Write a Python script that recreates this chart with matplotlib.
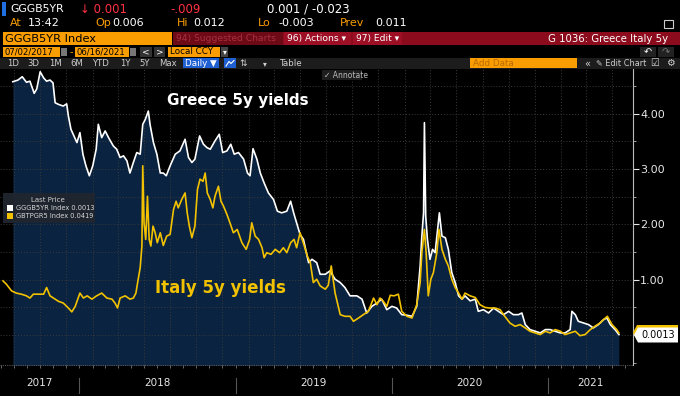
import matplotlib
matplotlib.use("Agg")
import matplotlib.pyplot as plt
import matplotlib.dates as mdates
import pandas as pd
from matplotlib.patches import Rectangle, Polygon
from matplotlib.lines import Line2D

# ---- data (yield, %) ----
greece_dates = [
    "2017-07-29", "2017-08-10", "2017-08-20", "2017-08-30", "2017-09-07", "2017-09-17", "2017-09-23",
    "2017-10-01", "2017-10-09", "2017-10-16", "2017-10-24", "2017-10-31", "2017-11-05", "2017-11-13",
    "2017-11-24", "2017-12-02", "2017-12-06", "2017-12-12", "2017-12-19", "2017-12-26", "2018-01-02",
    "2018-01-09", "2018-01-16", "2018-01-24", "2018-02-01", "2018-02-09", "2018-02-14", "2018-02-22",
    "2018-03-02", "2018-03-10", "2018-03-21", "2018-03-29", "2018-04-06", "2018-04-14", "2018-04-22",
    "2018-04-29", "2018-05-07", "2018-05-15", "2018-05-23", "2018-05-29", "2018-06-04", "2018-06-11",
    "2018-06-15", "2018-06-23", "2018-07-01", "2018-07-09", "2018-07-16", "2018-07-23", "2018-08-01",
    "2018-08-13", "2018-08-24", "2018-09-05", "2018-09-13", "2018-09-21", "2018-09-28", "2018-10-09",
    "2018-10-18", "2018-10-26", "2018-11-03", "2018-11-14", "2018-11-24", "2018-12-02", "2018-12-12",
    "2018-12-21", "2018-12-29", "2019-01-08", "2019-01-20", "2019-01-29", "2019-02-04", "2019-02-11",
    "2019-02-20", "2019-02-28", "2019-03-09", "2019-03-19", "2019-03-31", "2019-04-09", "2019-04-19",
    "2019-05-01", "2019-05-10", "2019-05-17", "2019-05-24", "2019-06-01", "2019-06-09", "2019-06-21",
    "2019-06-29", "2019-07-10", "2019-07-18", "2019-07-30", "2019-08-10", "2019-08-22", "2019-09-03",
    "2019-09-14", "2019-09-26", "2019-10-12", "2019-10-24", "2019-11-04", "2019-11-16", "2019-11-28",
    "2019-12-09", "2019-12-21", "2020-01-02", "2020-01-13", "2020-01-25", "2020-02-06", "2020-02-18",
    "2020-02-29", "2020-03-08", "2020-03-12", "2020-03-16", "2020-03-18", "2020-03-21", "2020-03-25",
    "2020-03-31", "2020-04-06", "2020-04-12", "2020-04-17", "2020-04-22", "2020-04-28", "2020-05-06",
    "2020-05-13", "2020-05-21", "2020-05-29", "2020-06-06", "2020-06-14", "2020-06-21", "2020-07-03",
    "2020-07-15", "2020-07-22", "2020-08-03", "2020-08-15", "2020-08-27", "2020-09-07", "2020-09-19",
    "2020-10-01", "2020-10-12", "2020-10-24", "2020-11-01", "2020-11-09", "2020-11-20", "2020-12-02",
    "2020-12-14", "2020-12-26", "2021-01-06", "2021-01-18", "2021-01-30", "2021-02-10", "2021-02-22",
    "2021-02-26", "2021-03-06", "2021-03-13", "2021-03-25", "2021-04-06", "2021-04-17", "2021-04-29",
    "2021-05-11", "2021-05-19", "2021-05-27", "2021-06-07", "2021-06-16",
]
greece_vals = [
    4.58, 4.61, 4.67, 4.57, 4.59, 4.37, 4.45,
    4.76, 4.65, 4.59, 4.61, 4.56, 4.20, 4.17,
    4.14, 4.18, 3.96, 3.72, 3.60, 3.48, 3.66,
    3.27, 3.06, 2.88, 3.06, 3.36, 3.81, 3.57,
    3.69, 3.57, 3.42, 3.36, 3.21, 3.24, 3.15,
    2.93, 3.12, 3.30, 3.27, 3.81, 3.90, 4.05,
    3.81, 3.48, 3.27, 2.93, 2.93, 2.88, 3.06,
    3.27, 3.33, 3.54, 3.21, 3.12, 3.18, 3.60,
    3.45, 3.39, 3.36, 3.51, 3.63, 3.30, 3.33,
    3.45, 3.27, 3.30, 3.18, 2.93, 2.88, 3.37,
    3.18, 2.93, 2.75, 2.57, 2.45, 2.24, 2.21,
    2.24, 2.42, 2.21, 2.03, 1.82, 1.73, 1.31,
    1.37, 1.31, 1.10, 1.10, 1.16, 1.01, 0.95,
    0.86, 0.71, 0.71, 0.65, 0.40, 0.52, 0.58,
    0.65, 0.46, 0.52, 0.49, 0.37, 0.36, 0.34,
    0.52, 1.25, 1.79, 2.21, 3.84, 2.15, 1.73,
    1.37, 1.55, 1.49, 1.85, 2.21, 1.79, 1.76,
    1.55, 1.13, 0.95, 0.71, 0.65, 0.71, 0.62,
    0.65, 0.43, 0.46, 0.40, 0.49, 0.43, 0.37,
    0.43, 0.37, 0.37, 0.40, 0.19, 0.10, 0.07,
    0.04, 0.10, 0.10, 0.07, 0.04, 0.04, 0.10,
    0.43, 0.37, 0.25, 0.22, 0.19, 0.13, 0.19,
    0.28, 0.31, 0.19, 0.10, 0.01,
]

italy_dates = [
    "2017-07-06", "2017-07-14", "2017-07-26", "2017-08-06", "2017-08-18", "2017-08-30", "2017-09-07",
    "2017-09-15", "2017-09-27", "2017-10-09", "2017-10-16", "2017-10-24", "2017-11-01", "2017-11-13",
    "2017-11-24", "2017-12-06", "2017-12-14", "2017-12-22", "2017-12-29", "2018-01-02", "2018-01-10",
    "2018-01-19", "2018-01-30", "2018-02-10", "2018-02-22", "2018-03-06", "2018-03-18", "2018-03-25",
    "2018-03-31", "2018-04-06", "2018-04-18", "2018-04-29", "2018-05-07", "2018-05-13", "2018-05-17",
    "2018-05-23", "2018-05-27", "2018-05-29", "2018-06-01", "2018-06-05", "2018-06-09", "2018-06-13",
    "2018-06-17", "2018-06-22", "2018-06-27", "2018-07-02", "2018-07-09", "2018-07-16", "2018-07-24",
    "2018-08-01", "2018-08-09", "2018-08-15", "2018-08-20", "2018-08-28", "2018-09-05", "2018-09-10",
    "2018-09-15", "2018-09-21", "2018-09-28", "2018-10-04", "2018-10-10", "2018-10-17", "2018-10-22",
    "2018-10-27", "2018-11-03", "2018-11-09", "2018-11-14", "2018-11-22", "2018-11-28", "2018-12-04",
    "2018-12-12", "2018-12-19", "2018-12-27", "2019-01-05", "2019-01-16", "2019-01-26", "2019-02-03",
    "2019-02-08", "2019-02-16", "2019-02-24", "2019-03-04", "2019-03-09", "2019-03-15", "2019-03-25",
    "2019-04-04", "2019-04-14", "2019-04-23", "2019-05-01", "2019-05-10", "2019-05-18", "2019-05-24",
    "2019-06-01", "2019-06-11", "2019-06-18", "2019-06-25", "2019-07-02", "2019-07-10", "2019-07-18",
    "2019-07-30", "2019-08-06", "2019-08-13", "2019-08-22", "2019-09-03", "2019-09-14", "2019-09-26",
    "2019-10-04", "2019-10-16", "2019-10-27", "2019-11-08", "2019-11-20", "2019-11-28", "2019-12-05",
    "2019-12-13", "2019-12-21", "2019-12-29", "2020-01-07", "2020-01-17", "2020-01-25", "2020-02-06",
    "2020-02-18", "2020-02-29", "2020-03-08", "2020-03-12", "2020-03-18", "2020-03-22", "2020-03-27",
    "2020-04-02", "2020-04-08", "2020-04-16", "2020-04-21", "2020-04-28", "2020-05-06", "2020-05-13",
    "2020-05-21", "2020-05-29", "2020-06-06", "2020-06-14", "2020-06-21", "2020-07-03", "2020-07-15",
    "2020-07-26", "2020-08-07", "2020-08-18", "2020-08-30", "2020-09-11", "2020-09-22", "2020-10-04",
    "2020-10-16", "2020-10-28", "2020-11-09", "2020-11-20", "2020-12-02", "2020-12-14", "2020-12-26",
    "2021-01-06", "2021-01-18", "2021-01-30", "2021-02-10", "2021-02-22", "2021-03-06", "2021-03-17",
    "2021-03-29", "2021-04-10", "2021-04-21", "2021-05-03", "2021-05-11", "2021-05-20", "2021-05-31",
    "2021-06-11", "2021-06-16",
]
italy_vals = [
    0.98, 0.92, 0.80, 0.76, 0.74, 0.71, 0.67,
    0.74, 0.74, 0.74, 0.86, 0.71, 0.67, 0.61,
    0.58, 0.49, 0.42, 0.52, 0.67, 0.76, 0.67,
    0.71, 0.65, 0.71, 0.76, 0.67, 0.65, 0.58,
    0.49, 0.67, 0.71, 0.65, 0.67, 0.76, 0.95,
    1.22, 1.61, 3.06, 2.03, 1.73, 2.51, 1.73,
    1.61, 1.97, 1.85, 1.67, 1.85, 1.62, 1.79,
    1.82, 2.27, 2.42, 2.30, 2.45, 2.57, 2.21,
    1.97, 1.76, 1.97, 2.63, 2.82, 2.78, 2.93,
    2.57, 2.45, 2.30, 2.51, 2.69, 2.42, 2.33,
    2.18, 2.03, 1.85, 1.91, 1.67, 1.55, 1.73,
    2.03, 1.79, 1.73, 1.58, 1.40, 1.49, 1.46,
    1.55, 1.49, 1.58, 1.49, 1.67, 1.73, 1.58,
    1.85, 1.61, 1.43, 1.31, 0.95, 1.01, 0.89,
    0.83, 0.90, 1.25, 0.76, 0.37, 0.34, 0.34,
    0.25, 0.31, 0.37, 0.43, 0.67, 0.55, 0.67,
    0.61, 0.52, 0.72, 0.71, 0.74, 0.43, 0.34,
    0.31, 0.55, 0.95, 1.49, 1.91, 1.49, 0.71,
    1.01, 1.13, 1.49, 1.91, 1.55, 1.37, 1.25,
    1.01, 0.86, 0.76, 0.65, 0.76, 0.71, 0.68,
    0.55, 0.50, 0.49, 0.49, 0.46, 0.34, 0.22,
    0.16, 0.19, 0.13, 0.07, 0.04, 0.01, 0.07,
    0.04, 0.10, 0.07, 0.01, 0.04, 0.07, -0.01,
    0.01, 0.10, 0.16, 0.22, 0.28, 0.34, 0.19,
    0.10, 0.04,
]

years = [2017, 2018, 2019, 2020, 2021]
ytick_vals = [1.0, 2.0, 3.0, 4.0]
last_greece = "0.0013"
last_italy = "0.0419"

g_d = pd.to_datetime(greece_dates)
i_d = pd.to_datetime(italy_dates)

# ---- colours ----
NAVY = "#0a2341"
YELLOW = "#f2c200"
ORANGE = "#f99d00"
RED_BAR = "#8c0b1c"
GRID = "#3a3a3a"

W, H = 680, 396
fig = plt.figure(figsize=(W / 100, H / 100), dpi=100, facecolor="black")


def fx(x):
    return x / W


def fy(y):
    return 1 - y / H


def box(x0, y0, x1, y1, color, **kw):
    fig.patches.append(Rectangle((fx(x0), fy(y1)), (x1 - x0) / W, (y1 - y0) / H,
                                 transform=fig.transFigure, facecolor=color, lw=0, **kw))


def txt(x, y, s, color="white", size=7.5, ha="left", **kw):
    fig.text(fx(x), fy(y), s, color=color, fontsize=size, ha=ha, va="center", **kw)


# ---- header rows ----
box(1.5, 2, 6, 16, "#1f6fe0")
txt(10, 9.5, "GGGB5YR", size=7.8)
txt(80, 9.5, "\u2193 0.001", color="#ff3040", size=8.5)
txt(170, 9.5, "-.009", color="#ff3040", size=8.5)
txt(267, 9.5, "0.001 / -0.023", size=8.5)

for lab, lx, val, vx in [("At", 10, "13:42", 28), ("Op", 95, "0.006", 112), ("Hi", 177, "0.012", 193),
                         ("Lo", 258, "-0.003", 278), ("Prev", 340, "0.011", 375)]:
    txt(lx, 23.5, lab, color=ORANGE, size=8)
    txt(vx, 23.5, val, size=8)
fig.patches.append(Rectangle((fx(664), fy(28)), 9 / W, 8 / H, transform=fig.transFigure,
                             facecolor="none", edgecolor="#cccccc", lw=0.8))

box(3, 31.5, 172, 45, ORANGE)
txt(5, 38.5, "GGGB5YR Index", color="black", size=8.2)
box(173, 31.5, 680, 45, RED_BAR)
box(173, 31.5, 283, 45, "#6e0916")
txt(176, 38.5, "94) Suggested Charts", color="#a8303e", size=6.6)
box(284, 31.5, 351, 45, "#9c0f24")
txt(287, 38.5, "96) Actions \u25be", size=6.6)
box(353, 31.5, 402, 45, "#9c0f24")
txt(356, 38.5, "97) Edit \u25be", size=6.6)
txt(668, 38.5, "G 1036: Greece Italy 5y", size=7.3, ha="right")

box(3, 46.5, 60, 57, ORANGE)
txt(4.5, 52, "07/02/2017", color="black", size=6.1)
box(61, 48, 67, 56, "#777777")
txt(70, 52, "-", color=ORANGE, size=7)
box(75, 46.5, 129, 57, ORANGE)
txt(76.5, 52, "06/16/2021", color="black", size=6.1)
box(130, 48, 136, 56, "#777777")
box(140, 47, 152, 57, "#333333")
txt(146, 52, "<", size=6.5, ha="center")
box(154, 47, 165, 57, "#333333")
txt(159.5, 52, ">", size=6.5, ha="center")
box(168, 46.5, 220, 57, ORANGE)
txt(170, 52, "Local CCY", color="black", size=6.3)
box(221, 47, 228, 57, "#444444")
txt(224.5, 52, "\u25be", size=5.5, ha="center")
box(640, 47, 656, 57, "#222222")
txt(648, 52, "\u21b6", size=7, ha="center")
box(658, 47, 674, 57, "#222222")
txt(666, 52, "\u21b7", color="#777777", size=7, ha="center")

# toolbar
box(0, 58, 680, 68.5, "#1c1c1c")
for lab, bx in [("1D", 13), ("3D", 33), ("1M", 55), ("6M", 77), ("YTD", 100), ("1Y", 125),
                ("5Y", 145), ("Max", 168)]:
    txt(bx, 63.3, lab, color="#cfcfcf", size=6.1, ha="center")
box(183, 58.5, 219, 68, "#1e5fd2")
txt(201, 63.3, "Daily \u25bc", size=6.3, ha="center")
box(224, 58.5, 236, 68, "#1e5fd2")
fig.lines.append(Line2D([fx(226), fx(229), fx(231), fx(234)], [fy(66), fy(61.5), fy(63.5), fy(60.5)],
                        transform=fig.transFigure, color="white", lw=0.8))
txt(243, 63.3, "\u21c5", color="#cfcfcf", size=6.5, ha="center")
txt(265, 63.3, "\u25be", color="#cfcfcf", size=5.5, ha="center")
txt(290, 63.3, "Table", color="#cfcfcf", size=6.3, ha="center")
box(470, 58.5, 577, 68, ORANGE)
txt(473, 63.3, "Add Data", color="#b86a00", size=6.3)
txt(587, 63.3, "\u00ab", color="#cfcfcf", size=7, ha="center")
txt(596, 63.3, "\u270e Edit Chart", color="#cfcfcf", size=5.9)
txt(655, 63.3, "\u2611", color="#cfcfcf", size=7, ha="center")
txt(670, 63.3, "\u2699", color="#cfcfcf", size=7, ha="center")

# ---- chart ----
ax = fig.add_axes([0, fy(365), 633 / W, (365 - 69) / H])
ax.set_facecolor("black")
x0, x1 = pd.Timestamp("2017-06-29"), pd.Timestamp("2021-07-19")
ax.set_xlim(x0, x1)
ax.set_ylim(-0.54, 4.81)

ax.fill_between(g_d, greece_vals, -1, color=NAVY, lw=0, zorder=1)
for v in [0.5 * k for k in range(10)]:
    ax.axhline(v, color=GRID, lw=0.7, ls=(0, (1, 2)), zorder=1.5)
for yr in range(2017, 2022):
    for m in [2, 4, 6, 8, 10, 12]:
        d = pd.Timestamp(yr, m, 1)
        if x0 < d < x1:
            ax.axvline(d, color=GRID, lw=0.7, ls=(0, (1, 2)), zorder=1.5)

ax.plot(g_d, greece_vals, color="white", lw=1.2, zorder=3)
ax.plot(i_d, italy_vals, color=YELLOW, lw=1.2, zorder=4)

for s in ["top", "left", "bottom"]:
    ax.spines[s].set_visible(False)
ax.spines["right"].set_color("#bbbbbb")
ax.spines["right"].set_linewidth(0.8)

ax.yaxis.tick_right()
ax.set_yticks(ytick_vals)
ax.set_yticklabels([f"{v:.2f}" for v in ytick_vals])
ax.set_yticks([0.5 * k for k in range(-1, 10)], minor=True)
ax.tick_params(axis="y", which="major", colors="#e6e6e6", labelsize=8, length=4, width=0.8, pad=1)
ax.tick_params(axis="y", which="minor", colors="#bbbbbb", length=2, width=0.6)

ax.xaxis.set_major_locator(mdates.MonthLocator())
ax.tick_params(axis="x", which="major", colors="#777777", length=2.5, width=0.6, labelbottom=False)
ax.axhline(-0.54, color="#555555", lw=0.8, ls=(0, (1, 1)), clip_on=False, zorder=2)

xt = ax.get_xaxis_transform()
for yr in years:
    a = max(x0, pd.Timestamp(yr, 1, 1))
    b = min(x1, pd.Timestamp(yr + 1, 1, 1))
    ax.text(a + (b - a) / 2, -0.061, str(yr), transform=xt, color="#e6e6e6", fontsize=7.5,
            ha="center", va="center")
    if yr > years[0]:
        ax.plot([a, a], [-0.044, -0.095], transform=xt, color="#555555", lw=0.8, clip_on=False)

# annotations on the chart
txt(238, 100, "Greece 5y yields", size=11, ha="center", fontweight="bold")
txt(220, 288, "Italy 5y yields", color=YELLOW, size=12, ha="center", fontweight="bold")

box(322, 70, 362, 80, "#1e1e1e")
txt(324, 75, "\u2713 Annotate", color="#bbbbbb", size=5.5)

# legend
box(3, 193, 95, 223, "#20262f", alpha=0.95)
txt(48, 200.5, "Last Price", color="#d0d0d0", size=5, ha="center")
box(7, 205, 13, 211, "white")
txt(16, 208, f"GGGB5YR Index {last_greece}", color="#d8d8d8", size=4.8)
box(7, 213, 13, 219, YELLOW)
txt(16, 216, f"GBTPGR5 Index {last_italy}", color="#d8d8d8", size=4.8)

# last price tags
fig.patches.append(Polygon([(fx(633), fy(332.5)), (fx(637), fy(325)), (fx(678), fy(325)),
                            (fx(678), fy(340)), (fx(637), fy(340))], closed=True,
                           transform=fig.transFigure, facecolor=YELLOW, lw=0))
fig.patches.append(Polygon([(fx(634), fy(335)), (fx(638), fy(327.5)), (fx(678), fy(327.5)),
                            (fx(678), fy(342.5)), (fx(638), fy(342.5))], closed=True,
                           transform=fig.transFigure, facecolor="white", lw=0))
txt(658, 335.3, last_greece, color="black", size=7, ha="center")

fig.savefig("out.png", dpi=100, facecolor="black")
